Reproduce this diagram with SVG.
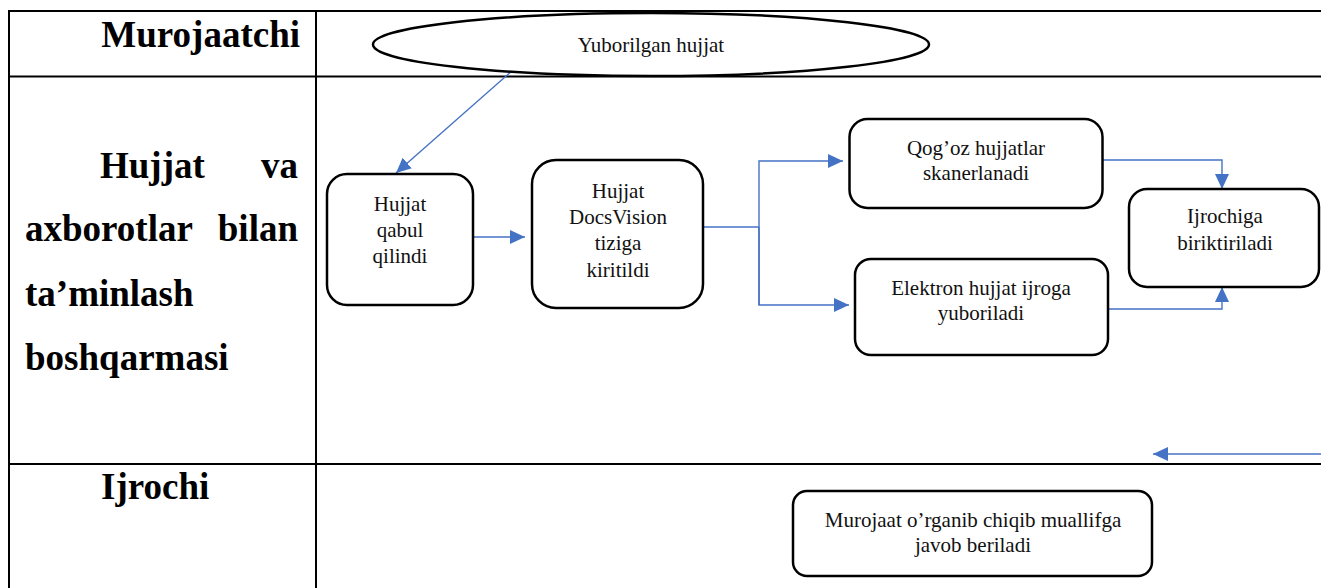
<svg xmlns="http://www.w3.org/2000/svg" width="1321" height="588" viewBox="0 0 1321 588">
<style>
.grid{stroke:#000;stroke-width:2;fill:none}
.lane{font-family:"Liberation Serif","Times New Roman",serif;font-weight:bold;font-size:37px;fill:#000}
.box{fill:#fff;stroke:#000;stroke-width:2.5}
.t{font-family:"Liberation Serif","Times New Roman",serif;font-size:21px;fill:#111;text-anchor:middle}
.con{stroke:#4472C4;stroke-width:1.4;fill:none}
</style>
<defs>
<marker id="ah" markerUnits="userSpaceOnUse" markerWidth="16" markerHeight="15" refX="15" refY="7" orient="auto">
<path d="M0,0 L15,7 L0,14 z" fill="#4472C4"/>
</marker>
</defs>
<rect x="0" y="0" width="1321" height="588" fill="#fff"/>
<g id="table">
<line class="grid" x1="9" y1="11" x2="1321" y2="11"/>
<line class="grid" x1="9" y1="76.5" x2="1321" y2="76.5"/>
<line class="grid" x1="9" y1="464" x2="1321" y2="464"/>
<line class="grid" x1="9" y1="10" x2="9" y2="588"/>
<line class="grid" x1="316" y1="10" x2="316" y2="588"/>
</g>
<g id="lane-murojaatchi"><text class="lane" x="300" y="47" text-anchor="end">Murojaatchi</text></g>
<g id="lane-hujjat">
<text class="lane" x="100" y="178">Hujjat</text>
<text class="lane" x="298" y="178" text-anchor="end">va</text>
<text class="lane" x="25" y="241">axborotlar</text>
<text class="lane" x="298" y="241" text-anchor="end">bilan</text>
<text class="lane" x="25" y="306">ta’minlash</text>
<text class="lane" x="25" y="370">boshqarmasi</text>
</g>
<g id="lane-ijrochi"><text class="lane" x="101" y="499">Ijrochi</text></g>
<g id="connectors">
<line class="con" x1="513" y1="70" x2="396" y2="173" marker-end="url(#ah)"/>
<line class="con" x1="473" y1="237" x2="525" y2="237" marker-end="url(#ah)"/>
<polyline class="con" points="704,227 759,227"/>
<polyline class="con" points="759,305 759,161 843,161" marker-end="url(#ah)"/>
<polyline class="con" points="759,227 759,305 849,305" marker-end="url(#ah)"/>
<polyline class="con" points="1102,160 1222,160 1222,189" marker-end="url(#ah)"/>
<polyline class="con" points="1108,309 1222,309 1222,287" marker-end="url(#ah)"/>
<line class="con" x1="1321" y1="454" x2="1153" y2="454" marker-end="url(#ah)"/>
</g>
<g id="n-yuborilgan">
<ellipse cx="651" cy="44.5" rx="278" ry="31.5" fill="#fff" stroke="#000" stroke-width="2.5"/>
<text class="t" x="651" y="52">Yuborilgan hujjat</text>
</g>
<g id="n-qabul">
<rect class="box" x="327" y="174" width="146" height="131" rx="20"/>
<text class="t" x="400" y="211">Hujjat</text>
<text class="t" x="400" y="237">qabul</text>
<text class="t" x="400" y="263">qilindi</text>
</g>
<g id="n-docsvision">
<rect class="box" x="532" y="160" width="171" height="148" rx="24"/>
<text class="t" x="618" y="198">Hujjat</text>
<text class="t" x="618" y="224">DocsVision</text>
<text class="t" x="618" y="250">tiziga</text>
<text class="t" x="618" y="277">kiritildi</text>
</g>
<g id="n-qogoz">
<rect class="box" x="849.5" y="119" width="253" height="89" rx="18"/>
<text class="t" x="976" y="155">Qog’oz hujjatlar</text>
<text class="t" x="976" y="180">skanerlanadi</text>
</g>
<g id="n-elektron">
<rect class="box" x="855" y="259" width="253" height="96" rx="16"/>
<text class="t" x="981" y="295">Elektron hujjat ijroga</text>
<text class="t" x="981" y="320">yuboriladi</text>
</g>
<g id="n-ijrochiga">
<rect class="box" x="1129" y="189" width="190" height="98" rx="18"/>
<text class="t" x="1225" y="223">Ijrochiga</text>
<text class="t" x="1225" y="250">biriktiriladi</text>
</g>
<g id="n-javob">
<rect class="box" x="793" y="491" width="359" height="85" rx="14"/>
<text class="t" x="973" y="527">Murojaat o’rganib chiqib muallifga</text>
<text class="t" x="973" y="552">javob beriladi</text>
</g>
</svg>
